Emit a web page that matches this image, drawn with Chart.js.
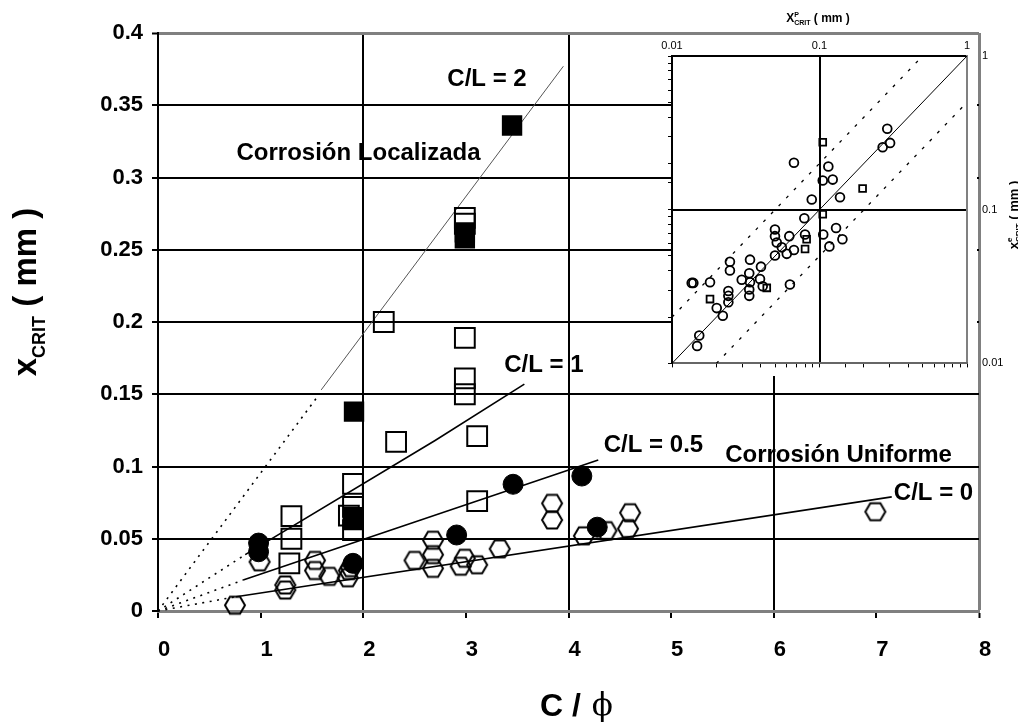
<!DOCTYPE html>
<html><head><meta charset="utf-8">
<script src="https://cdn.jsdelivr.net/npm/chart.js@4.4.1/dist/chart.umd.min.js"></script>
<style>
html,body{margin:0;padding:0;background:#fff;overflow:hidden}
#wrap{position:relative;width:1018px;height:726px;background:#fff}
#main{position:absolute;left:0;top:0}
#inset{position:absolute;left:640px;top:0}
</style></head><body>
<div id="wrap"><canvas id="main" width="1018" height="726"></canvas><canvas id="inset" width="378" height="385"></canvas></div>
<script>
// ---------- main chart data ----------
const xTicks = [0,1,2,3,4,5,6,7,8];
const xTickLabels = ['0','1','2','3','4','5','6','7','8'];
const yTicks = [0,0.05,0.1,0.15,0.2,0.25,0.3,0.35,0.4];
const yTickLabels = ['0','0.05','0.1','0.15','0.2','0.25','0.3','0.35','0.4'];

const openHexX = [0.75,0.99,1.24,1.24,1.53,1.53,1.67,1.86,1.85,1.88,2.50,2.68,2.68,2.68,2.99,2.95,3.11,3.33,3.84,3.84,4.15,4.37,4.60,4.58,6.99];
const openHexY = [0.004,0.034,0.0145,0.018,0.035,0.028,0.024,0.028,0.023,0.030,0.035,0.049,0.039,0.0295,0.0365,0.031,0.032,0.043,0.0745,0.063,0.052,0.0556,0.068,0.057,0.0687];

const filledCircX = [0.98,0.98,1.90,2.91,3.46,4.13,4.28];
const filledCircY = [0.047,0.041,0.033,0.0526,0.0877,0.0934,0.058];

const openSqX = [1.30,1.30,1.28,1.90,1.90,1.86,1.90,2.20,2.32,2.99,2.99,2.99,2.99,2.99,3.11,3.11];
const openSqY = [0.0657,0.050,0.033,0.088,0.072,0.066,0.056,0.200,0.117,0.189,0.161,0.150,0.272,0.268,0.121,0.076];

const filledSqX = [1.91,3.45,2.99,2.99,1.90,1.90];
const filledSqY = [0.138,0.336,0.262,0.258,0.065,0.063];

// model lines (dotted part from the origin, then solid part)
const cl2DotX = [0,1.54],   cl2DotY = [0,0.147];
const cl2LineX = [1.59,3.95], cl2LineY = [0.153,0.377];
const cl1DotX = [0,0.85],   cl1DotY = [0,0.039];
const cl1LineX = [0.85,2.70,3.57], cl1LineY = [0.039,0.118,0.157];
const cl05DotX = [0,0.83],  cl05DotY = [0,0.0214];
const cl05LineX = [0.83,4.29], cl05LineY = [0.0214,0.1045];
const cl0DotX = [0,0.76],   cl0DotY = [0,0.0099];
const cl0LineX = [0.76,7.15], cl0LineY = [0.0099,0.079];

const noteTexts = ['C/L = 2','Corrosión Localizada','C/L = 1','C/L = 0.5','Corrosión Uniforme','C/L = 0'];
const noteX = [3.206,1.954,3.761,4.828,6.631,7.557];
const noteY = [0.368,0.317,0.170,0.1149,0.108,0.0817];

// ---------- inset data ----------
const insetTicks = [0.01,0.1,1];
const insetTickLabels = ['0.01','0.1','1'];
const insetCircX = [0.288,0.301,0.268,0.0671,0.1148,0.1052,0.1229,0.1377,0.0886,0.0789,0.1295,0.106,0.143,0.1167,0.0499,0.0499,0.0624,0.0798,0.0513,0.0555,0.060,0.0671,0.0499,0.0338,0.0247,0.0247,0.0401,0.0334,0.0297,0.0338,0.0395,0.0412,0.0334,0.0334,0.063,0.01395,0.0136,0.0181,0.0241,0.0241,0.0241,0.0201,0.0221,0.0153,0.0148];
const insetCircY = [0.336,0.272,0.255,0.202,0.191,0.155,0.157,0.1205,0.1164,0.0879,0.076,0.069,0.0643,0.0577,0.0743,0.0673,0.0673,0.069,0.0612,0.0569,0.0516,0.0547,0.0504,0.0473,0.0458,0.0402,0.0426,0.0386,0.035,0.0337,0.0354,0.0318,0.0303,0.0275,0.0326,0.0334,0.0334,0.0337,0.0296,0.0275,0.025,0.0229,0.0204,0.0152,0.013];
const insetSqX = [0.1052,0.196,0.1052,0.0818,0.0798,0.0439,0.0181];
const insetSqY = [0.2745,0.1375,0.0933,0.0643,0.0555,0.031,0.0262];
const diagX = [0.01,1],  diagY = [0.01,1];
const upperX = [0.01,0.5], upperY = [0.02,1];
const lowerX = [0.02,1],   lowerY = [0.01,0.5];

// ---------- helpers ----------
const zip = (xs, ys) => xs.map((x, i) => ({x, y: ys[i]}));
const SANS = "'Liberation Sans', Arial, sans-serif";
const GRAY = '#808080';
const CLEAR = 'rgba(0,0,0,0)';

function hexCanvas(r, lw, fill) {
  const s = 2 * Math.ceil(r + lw);
  const c = document.createElement('canvas');
  c.width = s; c.height = s;
  const g = c.getContext('2d');
  g.translate(s / 2, s / 2);
  g.beginPath();
  for (let i = 0; i < 6; i++) {
    const a = Math.PI / 3 * i;
    const px = r * Math.cos(a), py = r * Math.sin(a) * 0.98;
    if (i) g.lineTo(px, py); else g.moveTo(px, py);
  }
  g.closePath();
  if (fill) { g.fillStyle = '#000'; g.fill(); }
  g.lineWidth = lw; g.strokeStyle = '#000'; g.stroke();
  return c;
}
const hexOpen = hexCanvas(10, 2, false);

function lineDs(xs, ys, dotted, width, color) {
  return {
    type: 'scatter', data: zip(xs, ys), showLine: true, pointRadius: 0,
    borderColor: color || '#000', borderWidth: width, borderDash: dotted ? [2, 5.5] : [],
    fill: false, order: 3, clip: false
  };
}

// ---------- main chart ----------
const mainNotes = {
  id: 'mainNotes',
  afterDatasetsDraw(chart) {
    const ctx = chart.ctx, xs = chart.scales.x, ys = chart.scales.y;
    ctx.save();
    ctx.fillStyle = '#000';
    ctx.font = 'bold 24px ' + SANS;
    ctx.textAlign = 'center'; ctx.textBaseline = 'middle';
    noteTexts.forEach((t, i) => ctx.fillText(t, xs.getPixelForValue(noteX[i]), ys.getPixelForValue(noteY[i])));
    ctx.restore();
  },
  afterDraw(chart) {
    const ctx = chart.ctx;
    ctx.save();
    ctx.fillStyle = '#000';
    ctx.textAlign = 'left'; ctx.textBaseline = 'alphabetic';
    // x axis title
    ctx.font = 'bold 32px ' + SANS;
    const cw = ctx.measureText('C / ').width;
    const cx0 = 540;
    ctx.fillText('C / ', cx0, 716);
    ctx.font = "31px 'DejaVu Serif', 'Liberation Serif', serif";
    ctx.fillText('\u03D5', cx0 + cw + 2, 715);
    // y axis title
    ctx.translate(36, 292);
    ctx.rotate(-Math.PI / 2);
    const f1 = 'bold 33px ' + SANS, f2 = 'bold 18px ' + SANS;
    ctx.font = f1; const w1 = ctx.measureText('x').width, w3 = ctx.measureText(' ( mm )').width;
    ctx.font = f2; const w2 = ctx.measureText('CRIT').width;
    let p = -(w1 + w2 + w3) / 2;
    ctx.font = f1; ctx.fillText('x', p, 0); p += w1;
    ctx.font = f2; ctx.fillText('CRIT', p, 9); p += w2;
    ctx.font = f1; ctx.fillText(' ( mm )', p, 0);
    ctx.restore();
  }
};

new Chart(document.getElementById('main'), {
  type: 'scatter',
  data: {
    datasets: [
      lineDs(cl2DotX, cl2DotY, true, 1.6),
      lineDs(cl2LineX, cl2LineY, false, 1, '#555'),
      lineDs(cl1DotX, cl1DotY, true, 1.6),
      lineDs(cl1LineX, cl1LineY, false, 1.6),
      lineDs(cl05DotX, cl05DotY, true, 1.6),
      lineDs(cl05LineX, cl05LineY, false, 1.6),
      lineDs(cl0DotX, cl0DotY, true, 1.6),
      lineDs(cl0LineX, cl0LineY, false, 1.6),
      { data: zip(openHexX, openHexY), pointStyle: hexOpen, pointRadius: 10, order: 1, clip: false },
      { data: zip(openSqX, openSqY), pointStyle: 'rect', pointRadius: 14, borderWidth: 2,
        borderColor: '#000', backgroundColor: CLEAR, order: 1, clip: false },
      { data: zip(filledSqX, filledSqY), pointStyle: 'rect', pointRadius: 13, borderWidth: 2,
        borderColor: '#000', backgroundColor: '#000', order: 1, clip: false },
      { data: zip(filledCircX, filledCircY), pointStyle: 'circle', pointRadius: 10, borderWidth: 1,
        borderColor: '#000', backgroundColor: '#000', order: 1, clip: false }
    ]
  },
  options: {
    responsive: false, animation: false, devicePixelRatio: 1, events: [],
    layout: { padding: { top: 33, right: 39, left: 0, bottom: 0 } },
    plugins: { legend: { display: false }, tooltip: { enabled: false } },
    scales: {
      x: {
        type: 'linear', min: 0, max: 8,
        afterBuildTicks: s => { s.ticks = xTicks.map(v => ({ value: v })); },
        afterFit: s => { s.height = 115; },
        ticks: { callback: (v, i) => xTickLabels[i], font: { family: SANS, size: 22, weight: 'bold' },
                 color: '#000', padding: 19, labelOffset: 6, autoSkip: false, maxRotation: 0 },
        grid: {
          color: c => { const v = c.tick ? c.tick.value : null; if (v === 8) return GRAY; return (v > 0 && v % 2 === 0) ? '#000' : CLEAR; },
          lineWidth: c => (c.tick && c.tick.value === 8) ? 3 : 2,
          tickColor: '#000', tickWidth: 2, tickLength: 7, drawTicks: true
        },
        border: { display: true, color: GRAY, width: 3 }
      },
      y: {
        type: 'linear', min: 0, max: 0.4,
        afterBuildTicks: s => { s.ticks = yTicks.map(v => ({ value: v })); },
        afterFit: s => { s.width = 158; },
        ticks: { callback: (v, i) => yTickLabels[i], font: { family: SANS, size: 22, weight: 'bold' },
                 color: '#000', padding: 9, autoSkip: false },
        grid: {
          color: c => { const v = c.tick ? c.tick.value : null; if (v === 0.4) return GRAY; return v === 0 ? CLEAR : '#000'; },
          lineWidth: c => (c.tick && c.tick.value === 0.4) ? 3 : 2,
          tickColor: '#000', tickWidth: 2, tickLength: 6, drawTicks: true
        },
        border: { display: true, color: '#000', width: 2 }
      }
    }
  },
  plugins: [mainNotes]
});

// ---------- inset chart ----------
const insetDeco = {
  id: 'insetDeco',
  beforeDraw(chart) {
    const ctx = chart.ctx;
    ctx.save();
    ctx.fillStyle = '#fff';
    ctx.fillRect(32, 35, 305, 341);
    ctx.restore();
  },
  afterDraw(chart) {
    const ctx = chart.ctx;
    ctx.save();
    ctx.fillStyle = '#000';
    ctx.textAlign = 'left'; ctx.textBaseline = 'alphabetic';
    const big = 'bold 12px ' + SANS, small = 'bold 7px ' + SANS;
    // top title  X^P_CRIT ( mm )
    ctx.font = big; const wa = ctx.measureText('X').width, wc = ctx.measureText(' ( mm )').width;
    ctx.font = small; const wb = ctx.measureText('CRIT').width;
    let p = 178 - (wa + wb + wc) / 2;
    ctx.font = big; ctx.fillText('X', p, 22); p += wa;
    ctx.font = small; ctx.fillText('P', p, 17); ctx.fillText('CRIT', p, 25); p += wb;
    ctx.font = big; ctx.fillText(' ( mm )', p, 22);
    // right title  x^e_CRIT ( mm ), rotated
    const big2 = 'bold 13px ' + SANS, small2 = 'bold 8px ' + SANS;
    ctx.translate(378, 215);
    ctx.rotate(-Math.PI / 2);
    ctx.font = big2; const wx = ctx.measureText('x').width, wm = ctx.measureText(' ( mm )').width;
    ctx.font = small2; const wb2 = ctx.measureText('CRIT').width;
    p = -(wx + wb2 + wm) / 2;
    ctx.font = big2; ctx.fillText('x', p, 0); p += wx;
    ctx.font = small2; ctx.fillText('e', p, -6); ctx.fillText('CRIT', p, 3); p += wb2;
    ctx.font = big2; ctx.fillText(' ( mm )', p, 0);
    ctx.restore();
  }
};

const logMinor = (pos, borderColor, fit) => ({
  type: 'logarithmic', position: pos, min: 0.01, max: 1,
  afterFit: fit,
  ticks: { display: false, autoSkip: false },
  grid: { drawOnChartArea: false, drawTicks: true, tickLength: 4, color: '#000', lineWidth: 1 },
  border: { display: true, color: borderColor, width: 2 }
});

new Chart(document.getElementById('inset'), {
  type: 'scatter',
  data: {
    datasets: [
      { ...lineDs(diagX, diagY, false, 1), clip: true },
      { ...lineDs(upperX, upperY, false, 1.3), borderDash: [3, 8], clip: true },
      { ...lineDs(lowerX, lowerY, false, 1.3), borderDash: [3, 8], clip: true },
      { data: zip(insetCircX, insetCircY), pointStyle: 'circle', pointRadius: 4.4, borderWidth: 1.8,
        borderColor: '#000', backgroundColor: CLEAR, order: 1 },
      { data: zip(insetSqX, insetSqY), pointStyle: 'rect', pointRadius: 4.8, borderWidth: 1.8,
        borderColor: '#000', backgroundColor: CLEAR, order: 1 }
    ]
  },
  options: {
    responsive: false, animation: false, devicePixelRatio: 1, events: [],
    layout: { padding: 0 },
    plugins: { legend: { display: false }, tooltip: { enabled: false } },
    scales: {
      x: {
        type: 'logarithmic', position: 'top', min: 0.01, max: 1,
        afterBuildTicks: s => { s.ticks = insetTicks.map(v => ({ value: v })); },
        afterFit: s => { s.height = 56; },
        ticks: { callback: (v, i) => insetTickLabels[i], font: { family: SANS, size: 11 }, color: '#000',
                 padding: 3, autoSkip: false, maxRotation: 0 },
        grid: { color: c => (c.tick && c.tick.value === 0.1) ? '#000' : CLEAR, lineWidth: 2, drawTicks: false },
        border: { display: true, color: '#000', width: 2 }
      },
      y: {
        type: 'logarithmic', position: 'right', min: 0.01, max: 1,
        afterBuildTicks: s => { s.ticks = insetTicks.map(v => ({ value: v })); },
        afterFit: s => { s.width = 51; },
        ticks: { callback: (v, i) => insetTickLabels[i], font: { family: SANS, size: 11 }, color: '#000',
                 padding: 15, autoSkip: false },
        grid: { color: c => (c.tick && c.tick.value === 0.1) ? '#000' : CLEAR, lineWidth: 2, drawTicks: false },
        border: { display: true, color: GRAY, width: 2 }
      },
      xb: logMinor('bottom', '#666', s => { s.height = 12; }),
      yl: logMinor('left', '#000', s => { s.width = 32; })
    }
  },
  plugins: [insetDeco]
});
</script>
</body></html>
